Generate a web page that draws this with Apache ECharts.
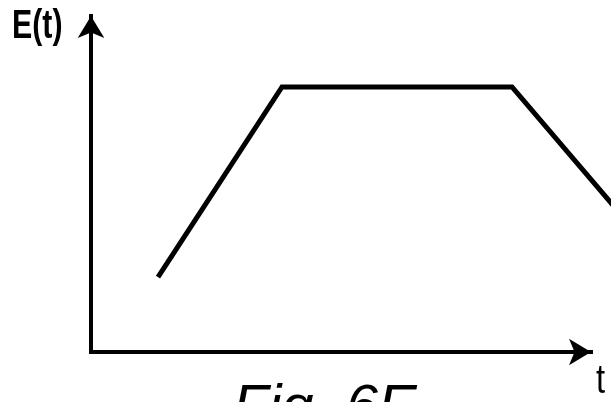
<!DOCTYPE html>
<html>
<head>
<meta charset="utf-8">
<title>Fig. 6E</title>
<script src="https://cdn.jsdelivr.net/npm/echarts@6/dist/echarts.min.js"></script>
<style>
  html, body { margin: 0; padding: 0; background: #fff; }
  #chart { width: 611px; height: 402px; }
</style>
</head>
<body>
<div id="chart"></div>
<script>
// values (arbitrary units)
var timeValues = [1.34, 3.82, 8.42, 10.6];
var energyValues = [2.23, 7.89, 7.89, 4.09];
var yAxisName = 'E(t)';
var xAxisName = 't';
var figCaption = 'Fig. 6E';

var chart = echarts.init(document.getElementById('chart'));

var pairs = [];
for (var i = 0; i < timeValues.length; i++) {
    pairs.push([timeValues[i], energyValues[i]]);
}

var axisLook = {
    show: true,
    symbol: ['none', 'arrow'],
    symbolSize: [20, 22],
    lineStyle: { color: '#000', width: 4, cap: 'square' }
};
var hidden = { show: false };

chart.setOption({
    animation: false,
    backgroundColor: '#fff',
    // grid 0 carries the arrowed axes, grid 1 the same scale running to the right edge
    grid: [
        { left: 91, top: 16, right: 20, bottom: 50 },
        { left: 91, top: 16, right: 0, bottom: 50 }
    ],
    xAxis: [
        { type: 'value', gridIndex: 0, min: 0, max: 10,
          axisLine: axisLook, axisTick: hidden, axisLabel: hidden, splitLine: hidden },
        { type: 'value', gridIndex: 1, min: 0, max: 10.4, show: false }
    ],
    yAxis: [
        { type: 'value', gridIndex: 0, min: 0, max: 10,
          axisLine: axisLook, axisTick: hidden, axisLabel: hidden, splitLine: hidden },
        { type: 'value', gridIndex: 1, min: 0, max: 10, show: false }
    ],
    graphic: [
        { type: 'text', left: 12, top: 6, scaleX: 0.74,
          style: { text: yAxisName, font: 'bold 41px "Liberation Sans", Arial, sans-serif', fill: '#000' } },
        { type: 'text', left: 596, top: 361, scaleX: 0.8,
          style: { text: xAxisName, font: '41px "Liberation Sans", Arial, sans-serif', fill: '#000' } },
        { type: 'text', left: 233, top: 380,
          style: { text: figCaption, font: 'italic 58px "Liberation Sans", Arial, sans-serif', fill: '#000' } }
    ],
    series: [{
        type: 'line',
        xAxisIndex: 1,
        yAxisIndex: 1,
        data: pairs,
        silent: true,
        showSymbol: false,
        symbol: 'none',
        lineStyle: { color: '#000', width: 5, join: 'miter' }
    }]
});
</script>
</body>
</html>
